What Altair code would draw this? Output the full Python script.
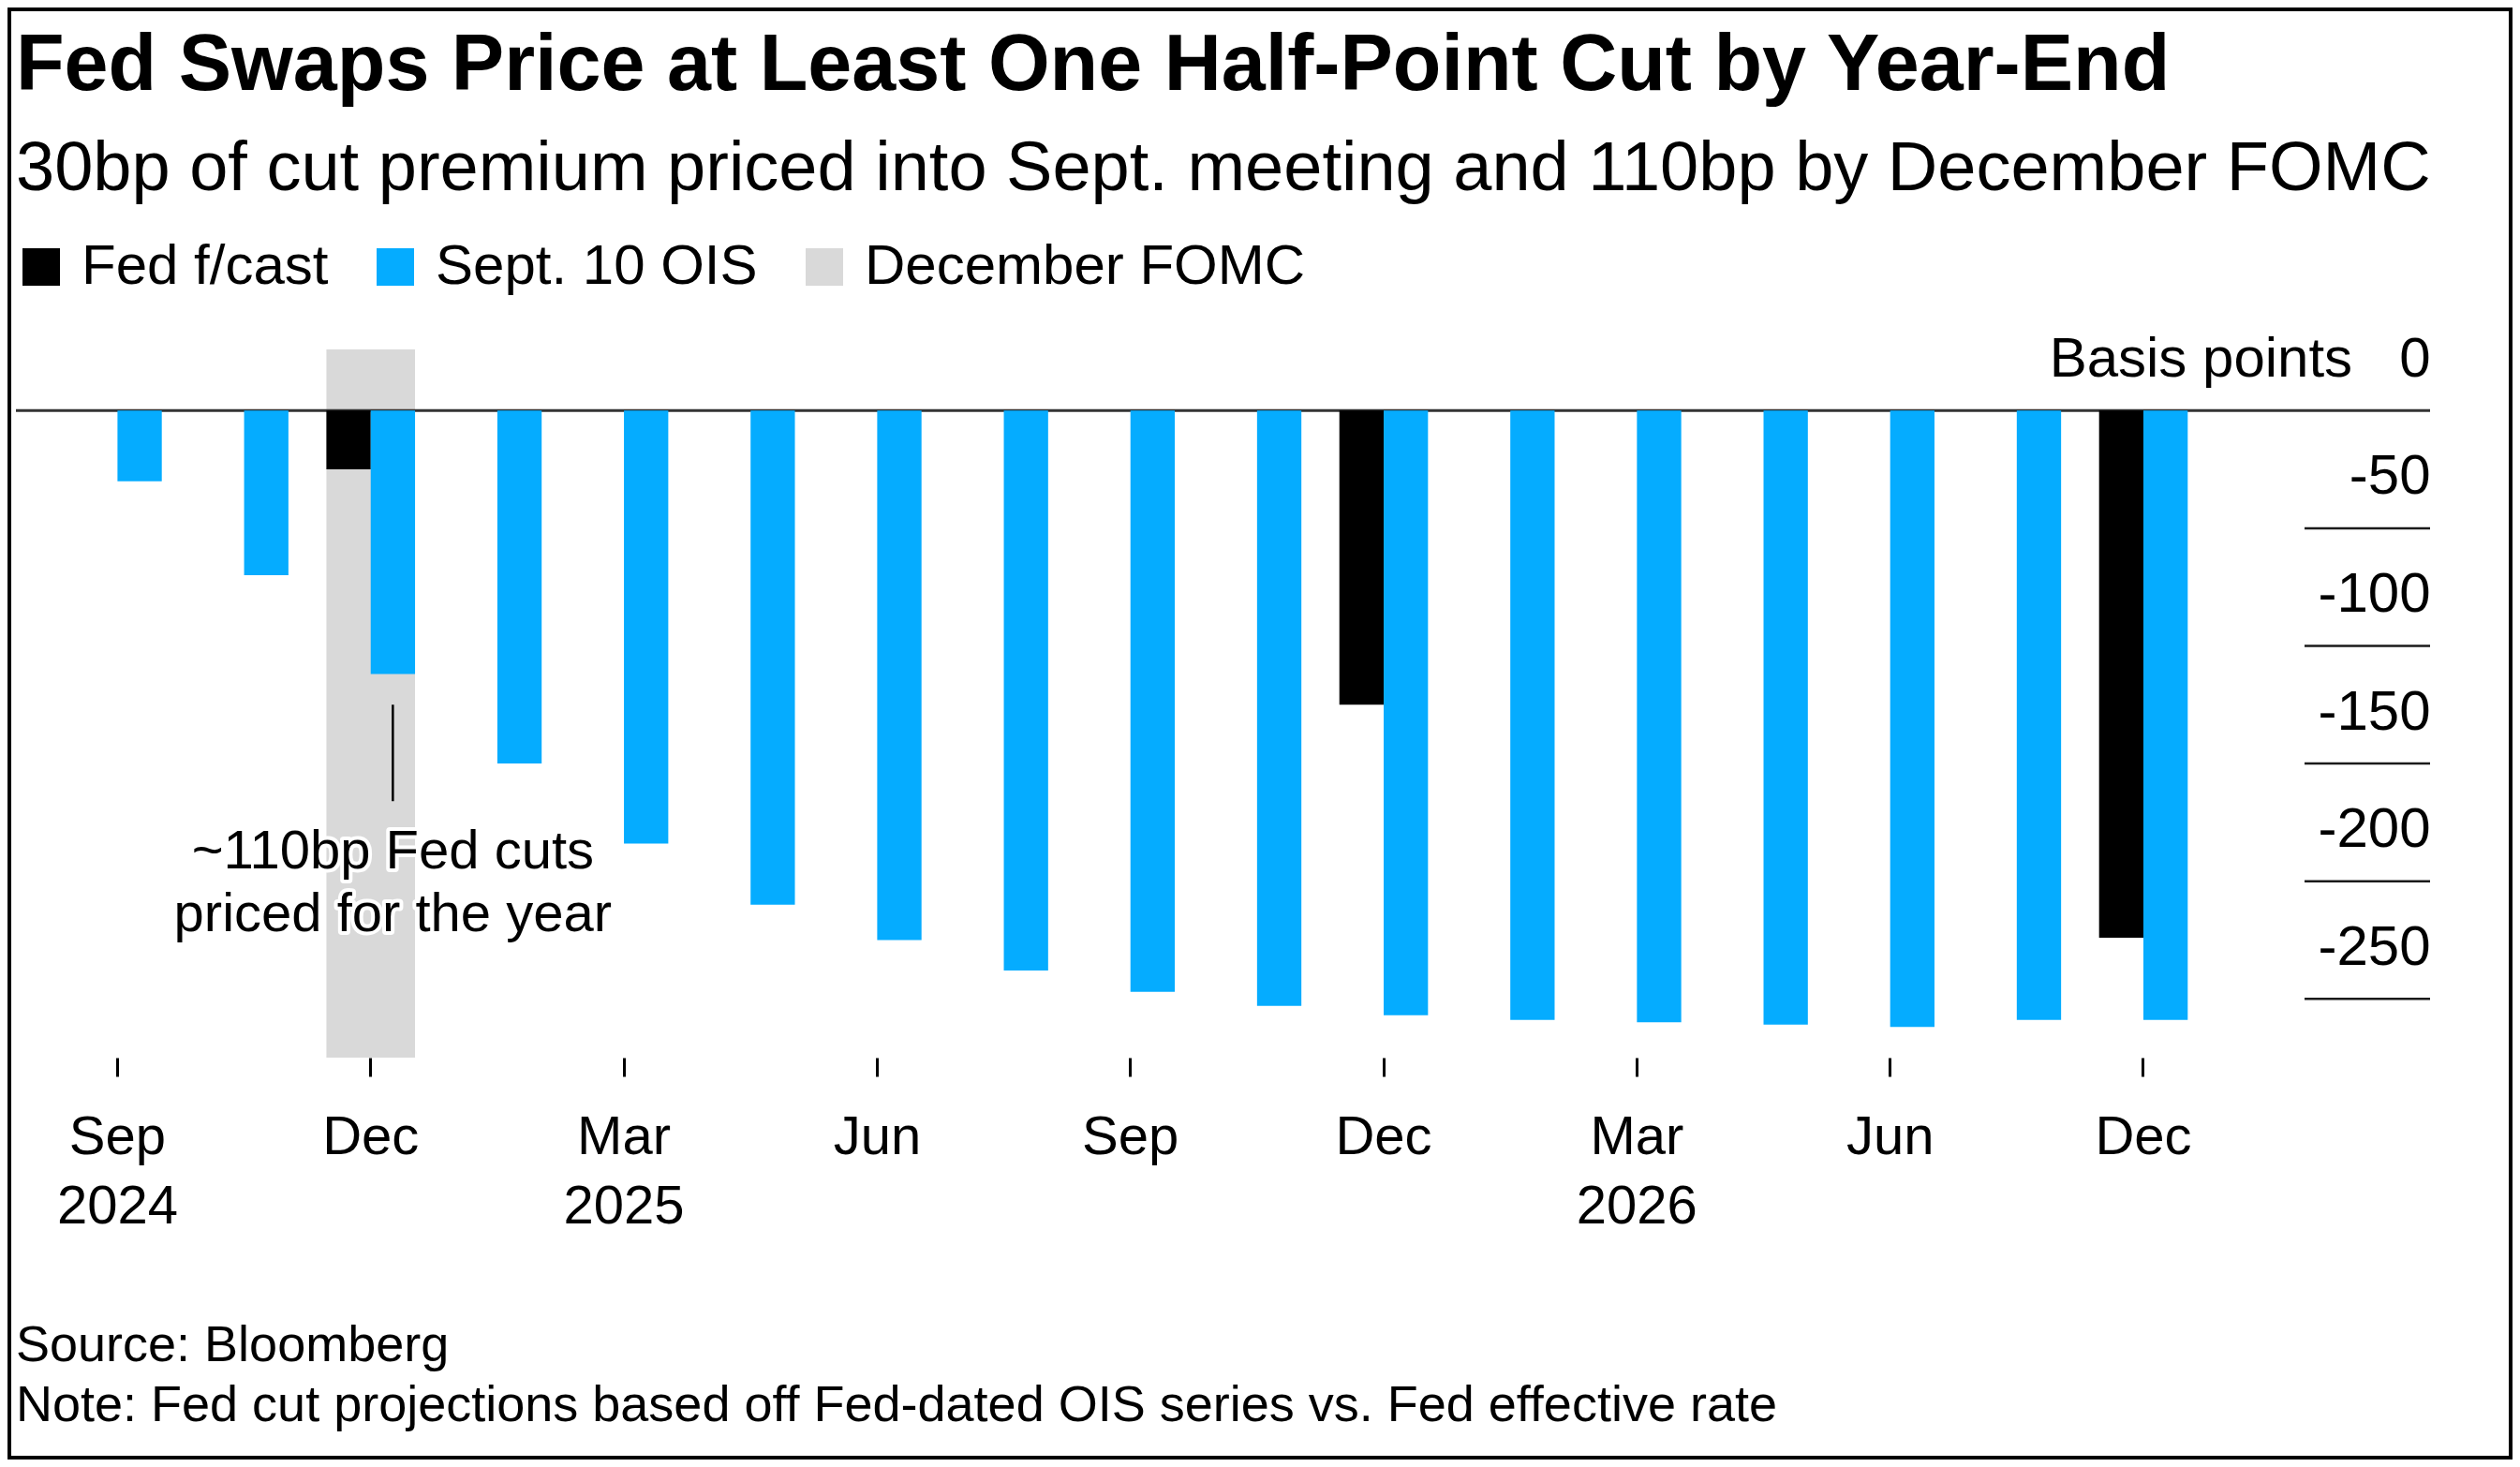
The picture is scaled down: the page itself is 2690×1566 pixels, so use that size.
import json
import altair as alt
import pandas as pd

FONT = "Liberation Sans, Arial, Helvetica, sans-serif"

# ---------------- data ----------------
meetings = ["Sep 24", "Nov 24", "Dec 24", "Jan 25", "Mar 25", "May 25", "Jun 25",
            "Jul 25", "Sep 25", "Oct 25", "Dec 25", "Jan 26", "Mar 26", "Apr 26",
            "Jun 26", "Jul 26", "Dec 26"]
ois_bp = [-30, -70, -112, -150, -184, -210, -225, -238, -247, -253, -257,
          -259, -260, -261, -262, -259, -259]
fcast_meetings = ["Dec 24", "Dec 25", "Dec 26"]
fcast_bp = [-25, -125, -224]

series_names = ["Fed f/cast", "Sept. 10 OIS", "December FOMC"]
series_colors = ["#000000", "#05acff", "#d9d9d9"]

fomc_meeting = ["Dec 24"]
y_domain = [-275, 26]
y_ticks = [0, -50, -100, -150, -200, -250]

tick_meetings = ["Sep 24", "Dec 24", "Mar 25", "Jun 25", "Sep 25", "Dec 25",
                 "Mar 26", "Jun 26", "Dec 26"]
tick_labels = [["Sep", "2024"], "Dec", ["Mar", "2025"], "Jun", "Sep", "Dec",
               ["Mar", "2026"], "Jun", "Dec"]

annotation_text = ["~110bp Fed cuts", "priced for the year"]
annotation_meeting = "Dec 24"
leader_bp = [-125, -166]
annotation_first_line_bp = -188

footer_lines = ["Source: Bloomberg",
                "Note: Fed cut projections based off Fed-dated OIS series vs. Fed effective rate"]

title_text = "Fed Swaps Price at Least One Half-Point Cut by Year-End"
subtitle_text = "30bp of cut premium priced into Sept. meeting and 110bp by December FOMC"

# ---------------- layout ----------------
W, H = 2577, 756
PAD = {"left": 9, "top": 365, "right": 88, "bottom": 429}
X_RANGE = [61.1, 2318.3]

bars_df = pd.concat([
    pd.DataFrame({"meeting": fcast_meetings, "series": "Fed f/cast", "bp": fcast_bp}),
    pd.DataFrame({"meeting": meetings, "series": "Sept. 10 OIS", "bp": ois_bp}),
], ignore_index=True)

band_df = pd.DataFrame({"meeting": fomc_meeting, "series": "December FOMC",
                        "bp": y_domain[1], "bottom": y_domain[0]})
grid_df = pd.DataFrame({"bp": y_ticks[1:]})
zero_df = pd.DataFrame({"bp": [0]})
leader_df = pd.DataFrame({"meeting": [annotation_meeting], "bp": [leader_bp[0]], "bp2": [leader_bp[1]]})
ann_df = pd.DataFrame({"meeting": [annotation_meeting], "bp": [annotation_first_line_bp],
                       "t": ["\n".join(annotation_text)]})
footer_df = pd.DataFrame({"t": ["\n".join(footer_lines)]})
title_df = pd.DataFrame({"t": [title_text]})
subtitle_df = pd.DataFrame({"t": [subtitle_text]})
frame_df = pd.DataFrame({"a": [0]})

x_scale = alt.Scale(domain=meetings, paddingInner=0.3, paddingOuter=0, range=X_RANGE)
y_scale = alt.Scale(domain=y_domain, nice=False, zero=False)
color_scale = alt.Scale(domain=series_names, range=series_colors)

x_label_expr = "".join(
    f"datum.value === {json.dumps(m)} ? {json.dumps(l)} : "
    for m, l in zip(tick_meetings, tick_labels)
) + "''"

y_label_expr = "datum.value === 0 ? 'Basis points\u00a0\u00a0\u00a00' : '' + datum.value"

x_axis = alt.Axis(
    orient="bottom", values=tick_meetings, labelExpr=x_label_expr, title=None,
    domain=False, grid=False, ticks=True, tickSize=20, tickWidth=3, tickColor="#000000",
    labelFont=FONT, labelFontSize=58, labelColor="#000000", labelLineHeight=74,
    labelBaseline="top", labelPadding=36, labelAngle=0, labelLimit=1000,
)
y_axis = alt.Axis(
    orient="right", values=y_ticks, labelExpr=y_label_expr, title=None,
    domain=False, grid=False, ticks=False, tickSize=0,
    labelFont=FONT, labelFontSize=60, labelColor="#000000", labelAlign="right",
    labelBaseline="alphabetic", labelPadding=0, labelOffset=-37,
    labelLimit=1000, labelOverlap=False,
)

legend = alt.Legend(
    orient="none", legendX=-3, legendY=-118, direction="horizontal", title=None,
    symbolType="square", symbolSize=1600, symbolStrokeWidth=0,
    labelFont=FONT, labelFontSize=60, labelColor="#000000", labelOffset=13,
    columnPadding=41, labelLimit=1000,
)

X = alt.X("meeting:N", scale=x_scale, axis=x_axis)
Y = alt.Y("bp:Q", scale=y_scale, axis=y_axis)
C = alt.Color("series:N", scale=color_scale, legend=legend)

frame = alt.Chart(frame_df).mark_rect(fill="transparent", stroke="#000000", strokeWidth=4).encode(
    x=alt.value(-7), x2=alt.value(W + PAD["right"] - 2),
    y=alt.value(-PAD["top"] + 2), y2=alt.value(H + PAD["bottom"] - 2),
)

band = alt.Chart(band_df).mark_bar().encode(x=X, y=Y, y2="bottom:Q", color=C)

zero = alt.Chart(zero_df).mark_rule(color="#333333", strokeWidth=3).encode(
    y=Y, x=alt.value(0), x2=alt.value(W),
)

bars = alt.Chart(bars_df).mark_bar().encode(
    x=X,
    xOffset=alt.XOffset("series:N", scale=alt.Scale(domain=series_names[:2], paddingInner=0, paddingOuter=0)),
    y=Y,
    y2=alt.datum(0),
    color=C,
)

grid = alt.Chart(grid_df).mark_rule(color="#1a1a1a", strokeWidth=2.5).encode(
    y=Y, x=alt.value(W - 134), x2=alt.value(W),
)

leader = alt.Chart(leader_df).mark_rule(color="#000000", strokeWidth=2.5, xOffset=23.6).encode(
    x=X, y=Y, y2="bp2:Q",
)

ann_halo = alt.Chart(ann_df).mark_text(
    font=FONT, fontSize=58, lineBreak="\n", lineHeight=67, align="center", baseline="middle",
    xOffset=23.6, stroke="#ffffff", strokeWidth=8, strokeJoin="round", fill="#ffffff",
).encode(x=X, y=Y, text="t:N")
ann_text = alt.Chart(ann_df).mark_text(
    font=FONT, fontSize=58, lineBreak="\n", lineHeight=67, align="center", baseline="middle",
    xOffset=23.6, color="#000000",
).encode(x=X, y=Y, text="t:N")

footer = alt.Chart(footer_df).mark_text(
    font=FONT, fontSize=54, lineBreak="\n", lineHeight=64, align="left", baseline="alphabetic",
    color="#000000",
).encode(text="t:N", x=alt.value(0), y=alt.value(1080))

title = alt.Chart(title_df).mark_text(
    font=FONT, fontSize=84.5, fontWeight="bold", align="left", baseline="alphabetic", color="#000000",
).encode(text="t:N", x=alt.value(0), y=alt.value(-277))

subtitle = alt.Chart(subtitle_df).mark_text(
    font=FONT, fontSize=74, align="left", baseline="alphabetic", color="#000000",
).encode(text="t:N", x=alt.value(0), y=alt.value(-170))

chart = alt.layer(
    frame, band, zero, bars, grid, leader, ann_halo, ann_text, footer, title, subtitle
).properties(
    width=W, height=H,
    padding=PAD,
    autosize=alt.AutoSizeParams(type="none"),
    background="#ffffff",
).configure_view(stroke=None)

chart.save("out.html", embed_options={"renderer": "svg", "actions": False})
